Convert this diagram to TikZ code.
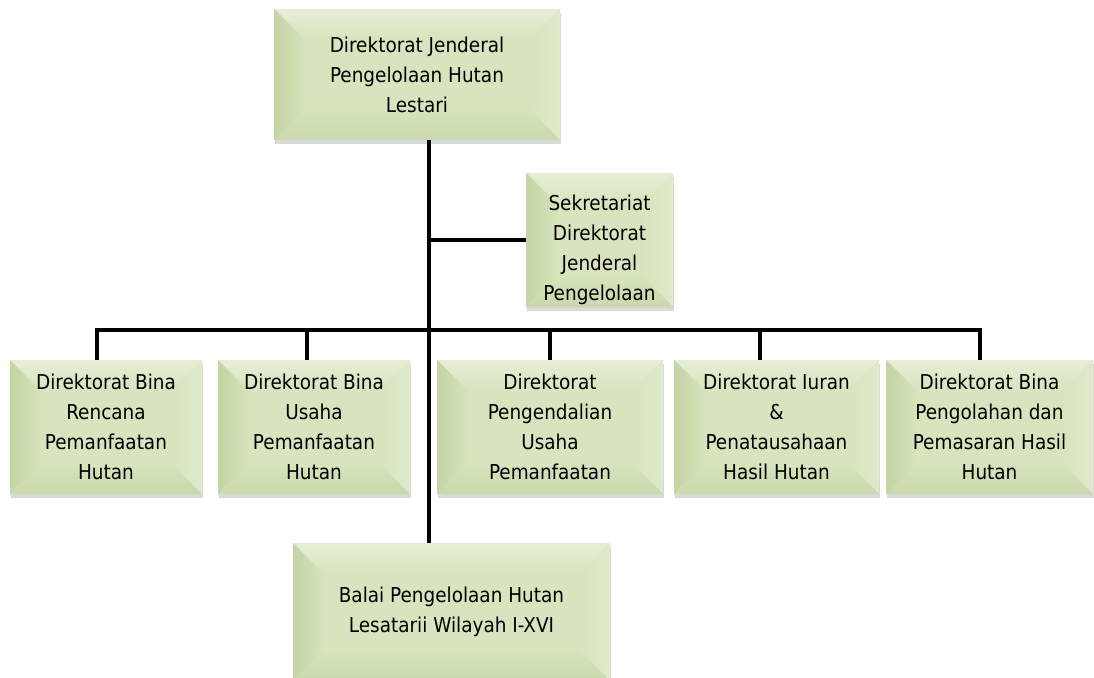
\documentclass[tikz,border=0pt]{standalone}
\usepackage{fontspec}
\setmainfont{DejaVu Sans Condensed}
\usepackage{tikz}
\usetikzlibrary{shadows}

\definecolor{boxgreen}{HTML}{D7E4BD}
\definecolor{bvtop}{HTML}{E6EED5}
\definecolor{bvleft}{HTML}{C4D4A3}
\definecolor{bvright}{HTML}{E0EACB}
\definecolor{bvbottom}{HTML}{C9D8AC}

\tikzset{
  bevel/.style={path picture={
    \path (path picture bounding box.north west) coordinate (nw)
          (path picture bounding box.north east) coordinate (ne)
          (path picture bounding box.south east) coordinate (se)
          (path picture bounding box.south west) coordinate (sw);
    \shade[top color=bvtop, bottom color=boxgreen]
      (nw) -- (ne) -- ([shift={(-#1,#1)}]ne) -- ([shift={(#1,#1)}]nw) -- cycle;
    \shade[left color=bvleft, right color=boxgreen]
      (nw) -- (sw) -- ([shift={(#1,-#1)}]sw) -- ([shift={(#1,#1)}]nw) -- cycle;
    \shade[left color=boxgreen, right color=bvright]
      (ne) -- (se) -- ([shift={(-#1,-#1)}]se) -- ([shift={(-#1,#1)}]ne) -- cycle;
    \shade[top color=boxgreen, bottom color=bvbottom]
      (sw) -- (se) -- ([shift={(-#1,-#1)}]se) -- ([shift={(#1,-#1)}]sw) -- cycle;
  }},
  orgbox/.style={rectangle, fill=boxgreen, bevel=32, inner sep=0pt,
    drop shadow={shadow xshift=1pt, shadow yshift=-4pt, opacity=0.3},
    align=center, font=\fontsize{20.5}{30}\selectfont},
  link/.style={line width=3.5pt, black},
}

\begin{document}
\begin{tikzpicture}[x=1pt,y=-1pt]
  \useasboundingbox (0,0) rectangle (1094,677);

  \node[orgbox, minimum width=286pt, minimum height=131pt] (top) at (417,74.5)
    {Direktorat Jenderal\\Pengelolaan Hutan\\Lestari};
  \node[orgbox, minimum width=147pt, minimum height=134pt] (sek) at (599.5,240) {};
  \begin{scope}
    \clip (sek.north west) rectangle (sek.south east);
    \node[align=center, font=\fontsize{20.5}{30}\selectfont] (sektext) at ([yshift=-10pt]sek.center)
      {Sekretariat\\Direktorat\\Jenderal\\Pengelolaan};
  \end{scope}

  \node[orgbox, minimum width=192pt, minimum height=134pt] (b1) at (106,427)
    {Direktorat Bina\\Rencana\\Pemanfaatan\\Hutan};
  \node[orgbox, minimum width=192pt, minimum height=134pt] (b2) at (314,427)
    {Direktorat Bina\\Usaha\\Pemanfaatan\\Hutan};
  \node[orgbox, minimum width=226pt, minimum height=134pt] (b3) at (550,427)
    {Direktorat\\Pengendalian\\Usaha\\Pemanfaatan};
  \node[orgbox, minimum width=205pt, minimum height=134pt] (b4) at (776.5,427)
    {Direktorat Iuran\\\&\\Penatausahaan\\Hasil Hutan};
  \node[orgbox, minimum width=207pt, minimum height=134pt] (b5) at (989.5,427)
    {Direktorat Bina\\Pengolahan dan\\Pemasaran Hasil\\Hutan};

  \node[orgbox, minimum width=317pt, minimum height=138pt] (bal) at (451.5,612)
    {Balai Pengelolaan Hutan\\Lesatarii Wilayah I-XVI};

  % trunk and branches
  \coordinate (trunk) at (429,0);
  \draw[link] (top.south -| trunk) -- (bal.north -| trunk);
  \draw[link] (trunk |- sek.west) -- (sek.west);
  \coordinate (busl) at (97,330);
  \coordinate (busr) at (980,330);
  \draw[link, line cap=rect] (busl) -- (busr);
  \foreach \n/\x in {b1/97,b2/307,b3/550,b4/760,b5/980}
    \draw[link] (\x,330) -- (\x,330 |- \n.north);
\end{tikzpicture}
\end{document}
